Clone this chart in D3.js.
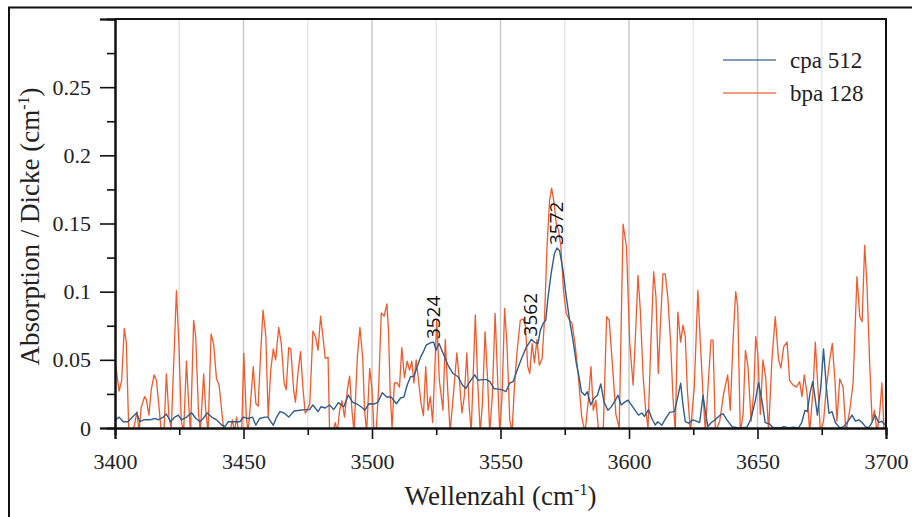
<!DOCTYPE html>
<html>
<head>
<meta charset="utf-8">
<script src="https://cdn.jsdelivr.net/npm/d3@7"></script>
<style>
  html, body { margin: 0; padding: 0; background: #fff; }
  svg { display: block; }
  .serif { font-family: "Liberation Serif", "Times New Roman", "DejaVu Serif", serif; }
</style>
</head>
<body>
<svg id="chart" width="912" height="517"></svg>
<script>
// Wavenumber (cm^-1) and absorption per thickness (cm^-1) for both samples
const bpaWave = [3400.3,3401.6,3402.6,3403.6,3404.4,3405.4,3407.0,3408.6,3409.3,3410.2,3411.5,3412.2,3413.2,3414.1,3415.2,3416.1,3417.1,3418.0,3419.1,3420.0,3421.0,3421.9,3422.8,3423.9,3424.9,3425.8,3426.7,3427.8,3428.6,3429.4,3430.6,3431.4,3432.5,3433.2,3434.5,3435.3,3436.2,3437.4,3438.4,3439.5,3440.5,3441.5,3442.3,3444.6,3445.7,3446.5,3447.3,3448.1,3449.3,3450.1,3451.1,3451.8,3452.7,3453.8,3454.8,3455.7,3456.6,3457.6,3458.7,3459.6,3460.6,3461.6,3462.5,3463.7,3464.7,3465.8,3466.6,3467.6,3468.4,3469.5,3470.2,3471.3,3472.2,3473.1,3474.0,3474.8,3475.8,3477.0,3478.0,3479.0,3480.0,3481.1,3481.8,3482.9,3483.5,3484.8,3485.7,3486.5,3487.4,3488.3,3489.3,3490.4,3491.3,3492.2,3493.0,3494.3,3495.3,3496.4,3497.1,3497.9,3499.1,3500.0,3500.8,3501.7,3502.6,3503.6,3504.7,3505.8,3506.4,3507.1,3507.8,3508.7,3509.8,3510.7,3511.6,3512.6,3513.7,3514.6,3515.5,3516.3,3517.2,3518.1,3519.1,3520.0,3520.9,3521.8,3522.7,3523.6,3525.2,3526.2,3527.6,3528.5,3529.4,3530.4,3531.7,3533.0,3534.0,3535.0,3535.9,3536.9,3537.8,3538.6,3540.2,3541.1,3542.1,3542.9,3544.0,3545.0,3545.8,3546.8,3547.9,3548.9,3549.7,3550.6,3551.6,3552.5,3553.6,3554.5,3555.4,3556.4,3557.7,3558.8,3559.7,3560.6,3561.4,3562.3,3563.2,3564.2,3565.1,3566.2,3567.1,3568.1,3569.1,3569.9,3570.7,3571.7,3572.6,3573.5,3574.5,3575.6,3576.9,3577.8,3579.0,3580.3,3581.6,3582.9,3584.2,3585.2,3586.1,3587.1,3588.2,3590.0,3591.3,3592.3,3593.6,3594.9,3596.2,3597.7,3599.0,3600.3,3601.6,3602.5,3603.5,3604.4,3605.5,3606.5,3607.4,3608.5,3609.6,3610.5,3611.4,3612.3,3613.2,3614.1,3615.1,3616.2,3617.1,3618.0,3619.0,3620.1,3621.0,3621.9,3622.7,3623.9,3625.4,3626.8,3627.7,3628.8,3629.7,3630.6,3631.9,3632.7,3633.6,3635.3,3636.8,3638.4,3639.4,3640.5,3641.5,3642.3,3643.3,3644.4,3645.3,3646.3,3647.5,3648.5,3649.3,3650.1,3651.1,3652.1,3653.2,3654.3,3655.6,3656.9,3658.2,3659.1,3660.2,3661.5,3662.5,3663.8,3665.1,3666.4,3667.3,3668.2,3669.3,3670.3,3671.6,3672.5,3673.4,3674.5,3675.7,3676.8,3678.1,3679.1,3680.2,3680.9,3682.0,3683.3,3684.4,3685.9,3687.2,3688.7,3689.8,3690.7,3691.7,3692.6,3693.7,3694.6,3695.5,3696.5,3697.5,3698.4,3699.3,3700.0];
const bpaValues = [0.046,0.027,0.035,0.073,0.063,-0.005,-0.003,0.012,-0.003,0.015,0.023,0.021,0.0095,0.028,0.039,0.035,0.016,-0.003,0.0,0.0396,0.008,0.0,0.045,0.1007,0.06,0.005,-0.003,0.049,0.02,-0.003,0.079,0.067,0.011,-0.003,0.0396,0.013,-0.003,0.069,0.061,0.036,0.0315,0.013,-0.001,-0.003,0.006,-0.003,0.008,-0.003,-0.003,0.0548,0.008,-0.003,0.018,0.045,0.018,0.016,0.052,0.0865,0.067,0.008,0.0425,0.058,0.05,0.0738,0.062,0.033,0.028,0.059,0.058,0.028,0.019,0.0425,0.056,0.03,0.011,0.013,0.018,0.071,0.067,0.057,0.082,0.064,0.051,0.052,-0.003,-0.003,0.004,-0.003,0.013,0.02,0.008,0.028,0.038,0.013,-0.003,0.052,0.0738,0.051,0.013,-0.003,0.0437,0.028,-0.003,0.0,0.03,0.0845,0.082,0.091,0.072,0.025,0.0,0.033,0.033,0.03,0.059,0.037,0.049,0.0425,0.049,0.033,0.05,0.035,0.018,0.009,0.045,0.013,0.023,0.004,0.079,0.035,0.013,0.065,0.03,-0.003,0.025,0.055,0.035,0.011,0.023,0.055,0.016,-0.003,0.083,0.035,-0.003,0.016,0.0706,0.035,-0.003,0.023,0.084,0.035,-0.003,0.023,0.0877,0.062,0.006,-0.003,0.03,0.055,0.079,0.08,0.075,0.045,0.040,0.062,0.048,0.065,0.046,0.051,0.079,0.133,0.167,0.176,0.167,0.15,0.145,0.133,0.101,0.084,0.079,0.077,0.062,0.0376,0.008,-0.003,0.0205,0.045,0.013,0.0205,-0.003,0.0,0.0816,0.079,0.045,0.01,0.0,0.1496,0.133,0.062,0.0315,0.067,0.112,0.0865,0.0376,0.013,0.0,0.062,0.1146,0.096,0.040,0.079,0.113,0.113,0.096,0.062,0.023,-0.003,0.085,0.063,0.0755,0.067,0.028,-0.003,0.030,0.101,0.0645,0.025,-0.003,0.026,0.0645,0.0645,-0.003,0.005,0.025,0.039,0.013,0.0645,0.1,0.089,-0.003,0.01,0.057,0.045,0.005,0.025,0.067,0.055,0.01,0.05,0.037,-0.003,0.05,0.0816,0.05,0.044,0.0596,0.063,0.035,0.0315,0.03,0.034,0.023,0.039,0.025,-0.003,0.028,0.063,0.033,-0.003,0.005,0.03,0.05,0.062,0.033,0.005,0.036,0.03,-0.003,0.013,0.033,0.111,0.0816,0.078,0.134,0.105,0.045,0.005,0.013,-0.003,0.01,0.033,-0.003,0.0];

const cpaWave = [3400.3,3401.6,3403.2,3405.1,3406.8,3408.4,3409.7,3411.2,3413.6,3415.5,3416.8,3418.8,3420.0,3421.6,3423.3,3424.6,3425.9,3427.9,3429.8,3431.5,3433.1,3434.3,3435.9,3437.6,3439.5,3441.5,3442.8,3444.1,3446.6,3448.6,3449.9,3451.8,3453.5,3454.8,3456.3,3458.3,3459.5,3461.6,3462.9,3464.2,3465.8,3467.6,3469.7,3471.9,3473.8,3475.7,3477.0,3479.0,3480.2,3481.8,3483.5,3485.1,3486.9,3489.0,3490.8,3492.4,3494.1,3495.9,3497.2,3498.8,3500.8,3502.3,3504.0,3505.7,3507.5,3509.5,3511.1,3512.4,3513.7,3515.0,3516.3,3517.6,3518.9,3520.0,3521.1,3522.7,3524.0,3524.9,3526.1,3527.6,3529.6,3531.5,3533.5,3535.2,3536.5,3538.1,3540.0,3541.3,3543.0,3544.6,3545.9,3547.4,3549.1,3550.8,3552.1,3553.6,3554.9,3556.5,3558.2,3560.1,3561.0,3562.0,3563.4,3564.6,3565.5,3566.6,3567.6,3568.5,3569.8,3571.0,3572.0,3573.0,3574.3,3575.6,3576.9,3578.2,3579.5,3580.5,3581.5,3582.8,3583.8,3585.1,3586.4,3587.7,3589.0,3590.3,3591.8,3593.1,3594.7,3595.7,3597.0,3598.3,3599.6,3600.9,3602.2,3603.7,3605.0,3606.0,3607.6,3608.9,3610.2,3611.2,3612.8,3614.1,3615.8,3617.7,3619.0,3620.1,3621.0,3621.9,3623.2,3624.9,3626.2,3627.5,3628.8,3629.7,3630.7,3632.0,3633.5,3635.2,3636.6,3638.1,3640.1,3642.7,3645.9,3647.5,3649.2,3650.4,3651.7,3653.0,3654.7,3656.2,3658.8,3660.3,3662.0,3664.0,3665.9,3667.2,3668.5,3669.4,3670.4,3671.5,3672.4,3673.3,3674.6,3675.7,3676.8,3677.8,3679.0,3680.3,3682.0,3683.5,3685.5,3686.8,3688.1,3689.4,3690.7,3692.0,3693.2,3694.5,3695.8,3697.1,3698.4,3699.7];
const cpaValues = [0.006,0.008,0.0046,0.0046,0.008,0.011,0.0046,0.006,0.006,0.007,0.006,0.008,0.0103,0.0046,0.008,0.0095,0.006,0.008,0.0112,0.007,0.0046,0.007,0.011,0.008,0.006,0.0022,0.001,0.0046,0.0046,0.0046,0.008,0.007,0.008,0.002,0.007,0.008,0.008,0.002,0.008,0.012,0.011,0.008,0.0125,0.013,0.0135,0.0135,0.0169,0.012,0.0156,0.0147,0.0169,0.0135,0.0186,0.0156,0.0242,0.019,0.0176,0.0154,0.013,0.0178,0.0176,0.019,0.0259,0.0227,0.0227,0.0178,0.022,0.0227,0.0315,0.0376,0.038,0.045,0.052,0.056,0.0608,0.0625,0.063,0.057,0.062,0.055,0.046,0.040,0.0376,0.0315,0.029,0.034,0.039,0.035,0.0355,0.0355,0.034,0.029,0.0285,0.028,0.0266,0.033,0.034,0.0425,0.051,0.0596,0.062,0.065,0.0626,0.062,0.0718,0.0767,0.079,0.096,0.1146,0.128,0.132,0.13,0.116,0.096,0.079,0.0645,0.0474,0.038,0.0266,0.024,0.0266,0.0169,0.0218,0.024,0.0323,0.019,0.013,0.0155,0.0204,0.024,0.0169,0.019,0.0204,0.017,0.0135,0.0095,0.011,0.0085,0.0135,0.007,0.0022,0.0046,0.002,0.0065,0.0115,0.012,0.023,0.0328,0.017,0.0046,0.0035,0.006,0.005,0.004,0.024,0.012,0.001,0.004,0.006,0.009,0.0105,0.006,0.001,0.0,0.0005,0.007,0.0205,0.0332,0.0205,0.004,0.003,0.0,0.0,0.001,0.0,0.0005,0.0,0.004,0.013,0.012,0.0254,0.034,0.022,0.0095,0.0296,0.058,0.0296,0.0108,0.012,0.004,0.0,0.001,0.0056,0.0095,0.005,0.006,0.004,0.001,0.0,0.004,0.0095,0.004,0.005,0.002];

// Peak positions of the cpa 512 band
const peakWaves = [3524, 3562, 3572];

// Axis ticks
const xMajorTicks = [3400, 3450, 3500, 3550, 3600, 3650, 3700];
const xMinorTicks = [3425, 3475, 3525, 3575, 3625, 3675];
const yMajorTicks = [0, 0.05, 0.1, 0.15, 0.2, 0.25, 0.3];
const yMinorTicks = [0.025, 0.075, 0.125, 0.175, 0.225, 0.275];
const yTickLabels = ["0", "0.05", "0.1", "0.15", "0.2", "0.25", ""];

const seriesNames = ["cpa 512", "bpa 128"];
const seriesColors = ["#2f5d8c", "#ef5b2d"];

const svg = d3.select("#chart");
const plotLeft = 115, plotRight = 886, plotTop = 19, plotBottom = 428;

const x = d3.scaleLinear().domain([3400, 3700]).range([plotLeft, plotRight]);
const y = d3.scaleLinear().domain([0, 0.3]).range([plotBottom, plotTop]);

svg.append("rect").attr("width", 912).attr("height", 517).attr("fill", "#fff");

// outer figure border (left and top edges)
svg.append("path")
  .attr("d", "M9,517 L9,7.5 L912,7.5")
  .attr("fill", "none").attr("stroke", "#111").attr("stroke-width", 2);

// vertical grid lines
svg.append("g").selectAll("line")
  .data(xMinorTicks.concat(xMajorTicks.slice(1, -1)))
  .join("line")
  .attr("x1", d => x(d)).attr("x2", d => x(d))
  .attr("y1", plotTop).attr("y2", plotBottom)
  .attr("stroke", d => (d % 50 === 0 ? "#c9c9c9" : "#e8e8e8"))
  .attr("stroke-width", 1.5);

// clip for the spectra
svg.append("clipPath").attr("id", "plotClip")
  .append("rect").attr("x", plotLeft).attr("y", plotTop)
  .attr("width", plotRight - plotLeft).attr("height", plotBottom - plotTop);

const line = d3.line().x(d => x(d[0])).y(d => y(d[1]));
const bpaData = bpaWave.map((w, i) => [w, bpaValues[i]]);
const cpaData = cpaWave.map((w, i) => [w, cpaValues[i]]);

const plot = svg.append("g").attr("clip-path", "url(#plotClip)");
plot.append("path").datum(bpaData)
  .attr("d", line).attr("fill", "none")
  .attr("stroke", seriesColors[1]).attr("stroke-width", 1.3)
  .attr("stroke-linejoin", "round");
plot.append("path").datum(cpaData)
  .attr("d", line).attr("fill", "none")
  .attr("stroke", seriesColors[0]).attr("stroke-width", 1.4)
  .attr("stroke-linejoin", "round");

// peak annotations
const cpaAt = w => cpaValues[cpaWave.indexOf(w)];
svg.append("g").selectAll("text")
  .data(peakWaves)
  .join("text")
  .attr("transform", d => `translate(${x(d) + 6},${y(cpaAt(d)) - 3}) rotate(-90)`)
  .style("font-family", "'Open Sans', sans-serif")
  .attr("font-size", 19)
  .attr("fill", "#111")
  .text(d => d);

// axes
svg.append("g").attr("transform", `translate(0,${plotBottom})`)
  .call(d3.axisBottom(x).tickValues(xMajorTicks).tickSize(11).tickPadding(14).tickFormat(d3.format("d")));
svg.append("g").attr("transform", `translate(0,${plotBottom})`)
  .call(d3.axisBottom(x).tickValues(xMinorTicks).tickSize(7).tickFormat(""));
svg.append("g").attr("transform", `translate(${plotLeft},0)`)
  .call(d3.axisLeft(y).tickValues(yMajorTicks).tickSize(15).tickPadding(9)
    .tickFormat((d, i) => yTickLabels[i]));
svg.append("g").attr("transform", `translate(${plotLeft},0)`)
  .call(d3.axisLeft(y).tickValues(yMinorTicks).tickSize(8).tickFormat(""));

svg.selectAll(".domain").attr("stroke", "#111").attr("stroke-width", 2);
svg.selectAll(".tick line").attr("stroke", "#111").attr("stroke-width", 1.6);
svg.selectAll(".tick text")
  .attr("class", "serif").attr("font-family", null)
  .attr("font-size", 22).attr("fill", "#222");
svg.selectAll("g").filter(function () { return this.getAttribute("font-family"); })
  .attr("font-family", null);

// top and right frame
svg.append("path")
  .attr("d", `M${plotLeft},${plotTop} L${plotRight},${plotTop} L${plotRight},${plotBottom}`)
  .attr("fill", "none").attr("stroke", "#111").attr("stroke-width", 2);

// axis titles
const xTitle = svg.append("text").attr("class", "serif")
  .attr("x", (plotLeft + plotRight) / 2).attr("y", 505)
  .attr("text-anchor", "middle")
  .attr("font-size", 27).attr("fill", "#222");
xTitle.append("tspan").text("Wellenzahl (cm");
xTitle.append("tspan").attr("dy", -10).attr("font-size", 16).text("-1");
xTitle.append("tspan").attr("dy", 10).text(")");

const yTitle = svg.append("text").attr("class", "serif")
  .attr("transform", `translate(39,${(plotTop + plotBottom) / 2 + 3}) rotate(-90)`)
  .attr("text-anchor", "middle")
  .attr("font-size", 27).attr("fill", "#222");
yTitle.append("tspan").text("Absorption / Dicke (cm");
yTitle.append("tspan").attr("dy", -10).attr("font-size", 16).text("-1");
yTitle.append("tspan").attr("dy", 10).text(")");

// legend
const legend = svg.append("g");
seriesNames.forEach((name, i) => {
  const ly = 60 + i * 33;
  legend.append("line")
    .attr("x1", 723).attr("x2", 776).attr("y1", ly).attr("y2", ly)
    .attr("stroke", seriesColors[i]).attr("stroke-width", 1.5).attr("opacity", 0.8);
  legend.append("text").attr("class", "serif")
    .attr("x", 790).attr("y", ly + 8)
    .attr("font-size", 23).attr("fill", "#222")
    .text(name);
});
</script>
</body>
</html>
